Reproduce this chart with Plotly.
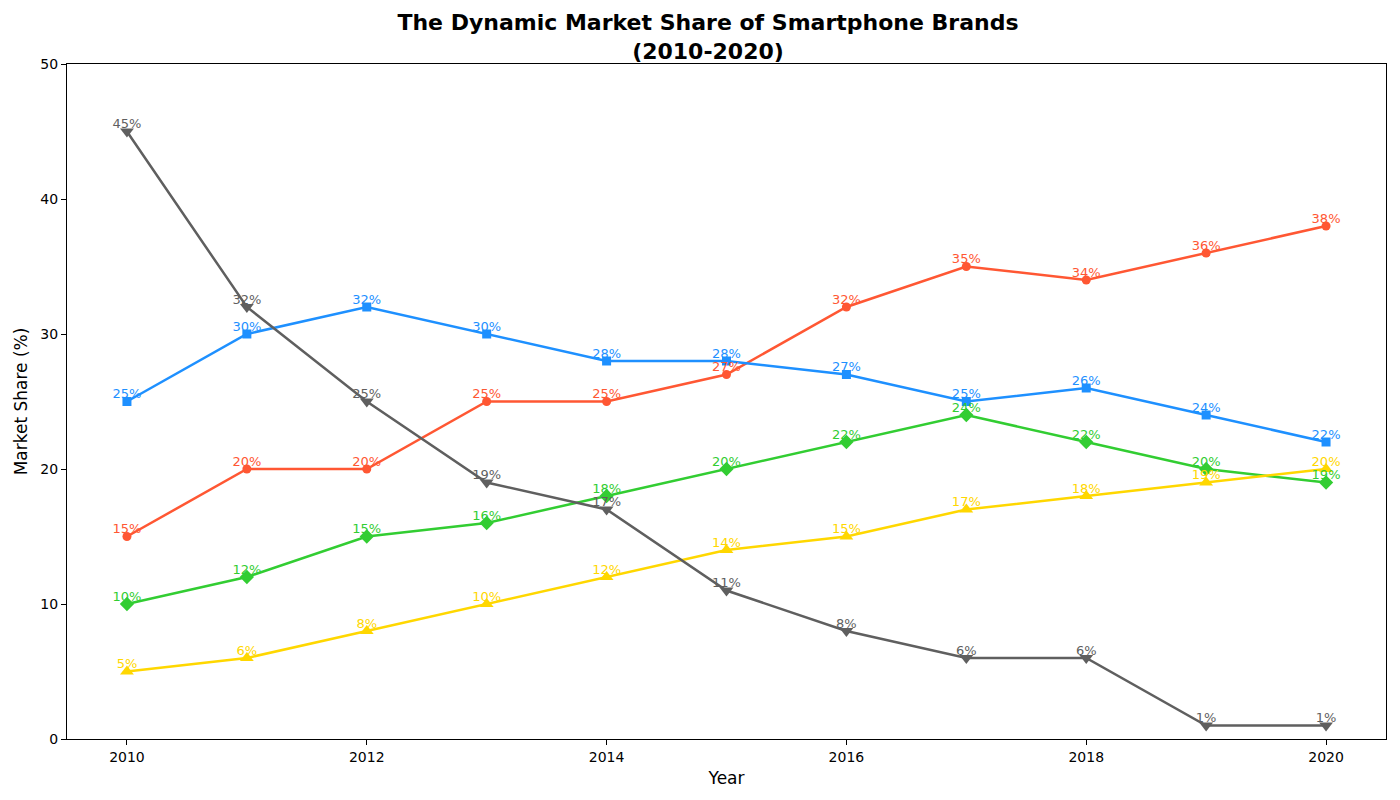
import plotly.graph_objects as go

years = [2010, 2011, 2012, 2013, 2014, 2015, 2016, 2017, 2018, 2019, 2020]

brand_a = [15, 20, 20, 25, 25, 27, 32, 35, 34, 36, 38]
brand_b = [25, 30, 32, 30, 28, 28, 27, 25, 26, 24, 22]
brand_c = [10, 12, 15, 16, 18, 20, 22, 24, 22, 20, 19]
brand_d = [5, 6, 8, 10, 12, 14, 15, 17, 18, 19, 20]
brand_e = [45, 32, 25, 19, 17, 11, 8, 6, 6, 1, 1]

series = [
    (brand_a, "#FF5733", "circle", 9),
    (brand_b, "#1E90FF", "square", 9),
    (brand_c, "#32CD32", "diamond", 11),
    (brand_d, "#FFD700", "triangle-up", 12),
    (brand_e, "#5F5F5F", "triangle-down", 12),
]

fig = go.Figure()
for values, color, symbol, msize in series:
    fig.add_trace(go.Scatter(
        x=years, y=values,
        mode="lines+markers",
        line=dict(color=color, width=2.5),
        marker=dict(color=color, symbol=symbol, size=msize),
        showlegend=False,
    ))
# value labels, in a text-only layer so they sit close to the markers
for values, color, symbol, msize in series:
    fig.add_trace(go.Scatter(
        x=years, y=values,
        mode="text",
        text=[f"{v}%" for v in values],
        textposition="top center",
        textfont=dict(color=color, size=13, family="DejaVu Sans"),
        showlegend=False,
        cliponaxis=False,
        hoverinfo="skip",
    ))

axis_common = dict(
    showgrid=False, zeroline=False, automargin=False,
    showline=True, linecolor="black", linewidth=1, mirror=True,
    ticks="outside", ticklen=5, tickcolor="black",
    tickfont=dict(size=14, color="black"),
)

fig.update_layout(
    width=1400, height=800,
    margin=dict(l=59, r=22, t=56, b=69),
    plot_bgcolor="white", paper_bgcolor="white",
    font=dict(family="DejaVu Sans", color="black"),
    title=dict(
        text="<b>The Dynamic Market Share of Smartphone Brands<br>(2010-2020)</b>",
        x=0.5, xanchor="center", y=0.972, yanchor="top",
        font=dict(size=22, color="black"),
    ),
    xaxis=dict(
        range=[2009.5, 2020.5], tickvals=[2010, 2012, 2014, 2016, 2018, 2020],
        title=dict(text="Year", font=dict(size=17), standoff=8),
        **axis_common,
    ),
    yaxis=dict(
        range=[0, 50], tickvals=[0, 10, 20, 30, 40, 50],
        title=dict(text="Market Share (%)", font=dict(size=17), standoff=8),
        **axis_common,
    ),
)

fig.write_html("out.html")
